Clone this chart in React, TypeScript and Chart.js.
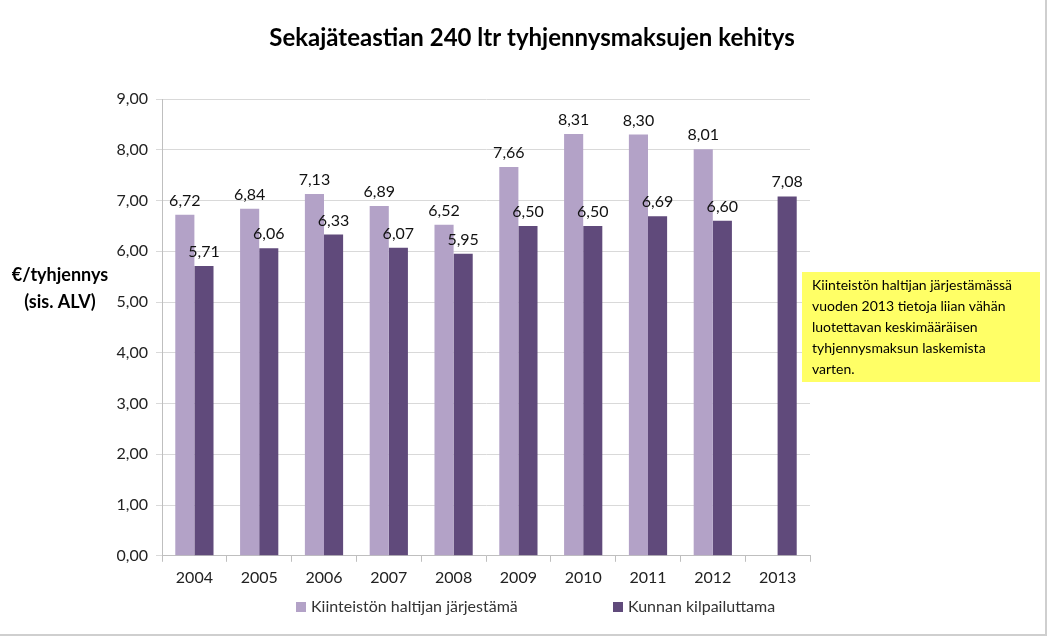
import React, { useEffect, useRef } from "react";
import { Chart, registerables } from "chart.js";

Chart.register(...registerables);

const years = ["2004", "2005", "2006", "2007", "2008", "2009", "2010", "2011", "2012", "2013"];
const kiinteistonValues: (number | null)[] = [6.72, 6.84, 7.13, 6.89, 6.52, 7.66, 8.31, 8.3, 8.01, null];
const kunnanValues: number[] = [5.71, 6.06, 6.33, 6.07, 5.95, 6.5, 6.5, 6.69, 6.6, 7.08];
const seriesNames = ["Kiinteistön haltijan järjestämä", "Kunnan kilpailuttama"];
const titleText = "Sekajäteastian 240 ltr tyhjennysmaksujen kehitys";
const yTitleLines = ["€/tyhjennys", "(sis. ALV)"];
const noteLines = [
  "Kiinteistön haltijan järjestämässä",
  "vuoden 2013 tietoja liian vähän",
  "luotettavan keskimääräisen",
  "tyhjennysmaksun laskemista",
  "varten.",
];

const FONT = "Lato, 'Open Sans', sans-serif";
const fmt = (v: number) => v.toFixed(2).replace(".", ",");

const decorPlugin = {
  id: "decor",
  afterDraw(chart: any) {
    const ctx = chart.ctx as CanvasRenderingContext2D;
    ctx.save();
    // title
    ctx.fillStyle = "#000";
    ctx.font = `bold 24px ${FONT}`;
    ctx.textAlign = "center";
    ctx.textBaseline = "middle";
    ctx.fillText(titleText, 532, 38);

    // y title
    ctx.font = `bold 18px ${FONT}`;
    ctx.fillText(yTitleLines[0], 60, 275);
    ctx.fillText(yTitleLines[1], 60, 302);

    // data labels
    ctx.font = `16px ${FONT}`;
    ctx.fillStyle = "#111";
    ctx.textBaseline = "alphabetic";
    chart.data.datasets.forEach((ds: any, i: number) => {
      const meta = chart.getDatasetMeta(i);
      meta.data.forEach((bar: any, j: number) => {
        const v = ds.data[j];
        if (v == null) return;
        ctx.fillText(fmt(v), bar.x, bar.y - 9);
      });
    });

    // note box
    ctx.fillStyle = "#ffff66";
    ctx.fillRect(802, 272, 238, 110);
    ctx.fillStyle = "#000";
    ctx.font = `14px ${FONT}`;
    ctx.textAlign = "left";
    ctx.textBaseline = "middle";
    noteLines.forEach((l, k) => ctx.fillText(l, 812, 285 + k * 21));

    // legend
    const legendItems = [
      { x: 296, i: 0 },
      { x: 613, i: 1 },
    ];
    ctx.font = `16px ${FONT}`;
    legendItems.forEach(({ x, i }) => {
      const ds = chart.data.datasets[i];
      ctx.fillStyle = ds.backgroundColor;
      ctx.fillRect(x, 602, 10, 10);
      ctx.fillStyle = "#333";
      ctx.fillText(ds.label, x + 15, 607);
    });

    // outer border
    ctx.strokeStyle = "#cfcfcf";
    ctx.lineWidth = 2;
    ctx.beginPath();
    ctx.moveTo(1046, 0);
    ctx.lineTo(1046, 635);
    ctx.lineTo(0, 635);
    ctx.stroke();
    ctx.restore();
  },
};

export default function App() {
  const ref = useRef<HTMLCanvasElement>(null);
  useEffect(() => {
    if (!ref.current) return;
    const chart = new Chart(ref.current, {
      type: "bar",
      data: {
        labels: years,
        datasets: [
          {
            label: seriesNames[0],
            data: kiinteistonValues,
            backgroundColor: "#b3a2c7",
            categoryPercentage: 0.59,
            barPercentage: 1,
          },
          {
            label: seriesNames[1],
            data: kunnanValues,
            backgroundColor: "#604a7b",
            categoryPercentage: 0.59,
            barPercentage: 1,
          },
        ],
      },
      plugins: [decorPlugin],
      options: {
        animation: false,
        responsive: false,
        layout: { padding: { top: 99, right: 237, bottom: 44, left: 0 } },
        plugins: {
          legend: { display: false },
          title: { display: false },
          tooltip: { enabled: false },
        },
        scales: {
          x: {
            grid: {
              offset: true,
              drawOnChartArea: false,
              drawTicks: true,
              tickLength: 6,
              color: "#bfbfbf",
            },
            border: { color: "#bfbfbf" },
            ticks: { font: { family: FONT, size: 16 }, color: "#222", padding: 6 },
          },
          y: {
            min: 0,
            max: 9,
            afterFit(scale: any) {
              scale.width = 162;
            },
            grid: { color: "#d9d9d9", tickLength: 6 },
            border: { color: "#bfbfbf" },
            ticks: {
              stepSize: 1,
              padding: 8,
              font: { family: FONT, size: 16 },
              color: "#222",
              callback: (v: any) => fmt(Number(v)),
            },
          },
        },
      },
    });
    return () => chart.destroy();
  }, []);
  return (
    <div style={{ position: "fixed", left: 0, top: 0, width: 1047, height: 637, background: "#fff" }}>
      <canvas ref={ref} width={1047} height={637} />
    </div>
  );
}
